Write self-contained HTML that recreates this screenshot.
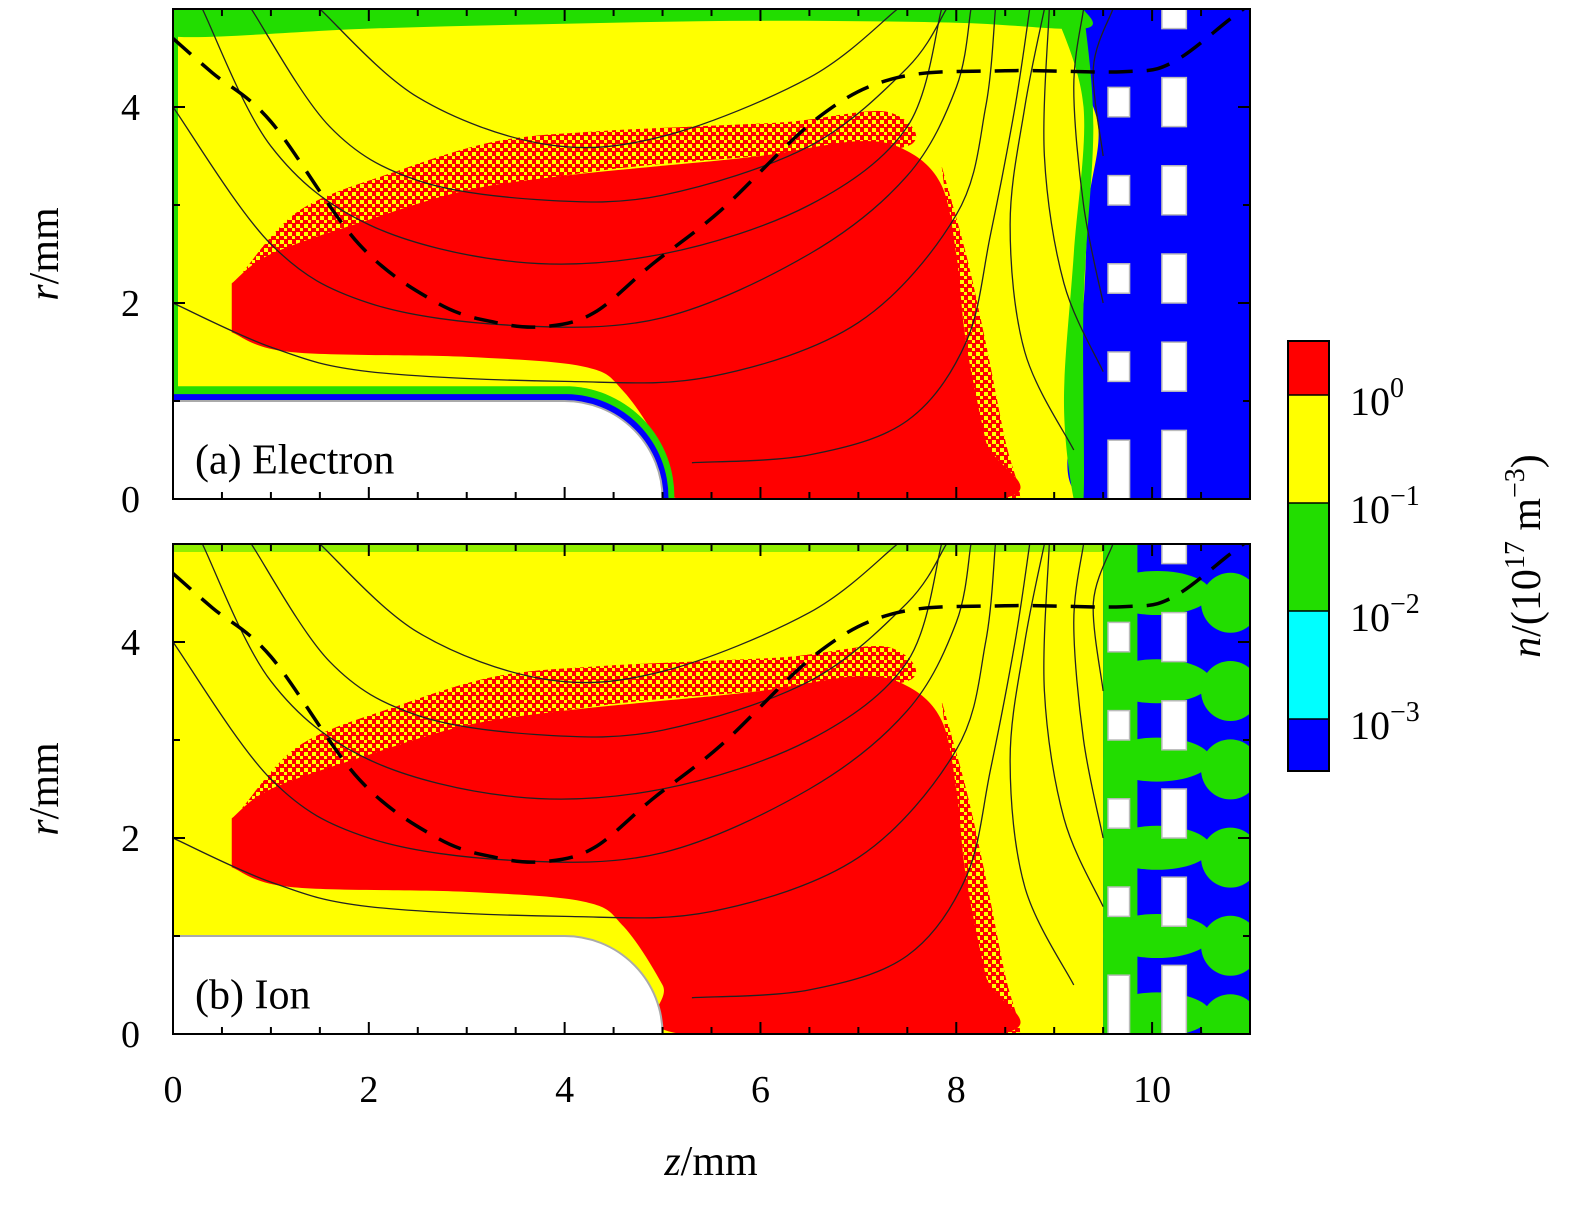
<!DOCTYPE html>
<html><head><meta charset="utf-8"><style>
body{margin:0;background:#fff}
svg text{font-family:"Liberation Serif",serif;fill:#000}
</style></head><body>
<svg id="fig" width="1575" height="1201" viewBox="0 0 1575 1201" xmlns="http://www.w3.org/2000/svg">
<defs>
<pattern id="speck" width="8" height="8" patternUnits="userSpaceOnUse">
<rect width="8" height="8" fill="#ff0000"/><rect x="0" y="0" width="4" height="4" fill="#ffff00"/><rect x="4" y="4" width="3" height="3" fill="#ffff00"/>
</pattern>
</defs>
</svg>
<script>
// ---- data (z in mm, r in mm) ----
const zTicks=[0,2,4,6,8,10];
const rTicks=[0,2,4];
const cbLabels=["0","\u22121","\u22122","\u22123"];
const redRegion=[[0.6,2.2],[1,2.5],[2,2.85],[3,3.15],[4,3.3],[5,3.4],[6,3.5],[7,3.65],[7.5,3.55],[7.85,3.2],[8.0,2.5],[8.1,1.6],[8.3,0.6],[8.45,0],[5.2,0],[5.0,0.5],[4.6,1.1],[4.2,1.35],[3,1.45],[1.2,1.5],[0.6,1.7]];
const speckRegion=[[0.7,2.3],[1.3,2.95],[2.3,3.35],[3.3,3.65],[4.3,3.75],[5.3,3.8],[6.3,3.85],[7.3,3.95],[7.5,3.6],[6,3.5],[4,3.3],[2,2.85]];
const speckRight=[[7.85,3.4],[8.1,2.5],[8.3,1.6],[8.5,0.6],[8.65,0],[8.4,0],[8.2,0.8],[8.05,2.0],[7.9,3.0]];
const streamA=[
 [[1.5,5],[2.5,4.1],[3.8,3.62],[5,3.7],[6.5,4.3],[7.4,5]],
 [[0.8,5],[1.6,3.8],[2.5,3.25],[3.8,3.05],[5,3.1],[6.5,3.6],[7.5,4.4],[7.9,5]],
 [[0.3,5],[1,3.6],[2,2.8],[3.5,2.42],[5,2.5],[6.5,3.0],[7.5,3.8],[7.85,5]],
 [[0,4.0],[1,2.6],[2,2.0],[3.5,1.77],[5,1.85],[6.5,2.5],[7.5,3.3],[8.0,4.2],[8.15,5]],
 [[0,2.0],[1,1.55],[2,1.3],[4,1.2],[5.5,1.25],[7,1.8],[8,2.9],[8.3,4],[8.4,5]],
 [[5.3,0.37],[6.5,0.45],[7.5,0.8],[8.1,1.6],[8.35,2.7],[8.6,4],[8.75,5]],
 [[9.2,0.5],[8.7,1.5],[8.55,2.8],[8.7,4],[8.9,5]],
 [[9.5,1.3],[9.1,2.2],[8.9,3.5],[8.95,5]],
 [[9.5,2.0],[9.3,3.0],[9.2,4.2],[9.3,5]],
 [[9.5,3.5],[9.4,4.4],[9.6,5]]
];
const dashLine=[[0,4.7],[0.4,4.35],[1.0,3.85],[1.9,2.6],[2.7,2.0],[3.3,1.8],[3.8,1.76],[4.3,1.9],[4.9,2.4],[5.6,2.95],[6.6,3.9],[7.4,4.3],[8.5,4.37],[9.7,4.36],[10.2,4.45],[10.8,4.9],[11,5.05]];
const holesA=[[9.55,3.9,0.22,0.3],[9.55,3.0,0.22,0.3],[9.55,2.1,0.22,0.3],[9.55,1.2,0.22,0.3],[9.55,0,0.22,0.6],
 [10.1,4.8,0.25,0.2],[10.1,3.8,0.25,0.5],[10.1,2.9,0.25,0.5],[10.1,2.0,0.25,0.5],[10.1,1.1,0.25,0.5],[10.1,0,0.25,0.7]];
const greenLobes=[4.5,3.6,2.8,1.9,1.0,0.2];
// ---- axes ----
const X0=173,X1=1250,PX=(X1-X0)/11;
const panels=[{yb:499,tag:"(a) Electron",name:"electron"},{yb:1034,tag:"(b) Ion",name:"ion"}];
const NS="http://www.w3.org/2000/svg";
const svg=document.getElementById('fig');
function el(t,a,p){const e=document.createElementNS(NS,t);for(const k in a)e.setAttribute(k,a[k]);(p||svg).appendChild(e);return e;}
function path(pts,sx,sy,close){
 let d="";const P=pts.map(p=>[sx(p[0]),sy(p[1])]);
 d="M"+P[0][0]+","+P[0][1];
 for(let i=0;i<P.length-1;i++){const p0=P[i-1]||P[i],p1=P[i],p2=P[i+1],p3=P[i+2]||p2;
  d+=" C"+(p1[0]+(p2[0]-p0[0])/6)+","+(p1[1]+(p2[1]-p0[1])/6)+" "+(p2[0]-(p3[0]-p1[0])/6)+","+(p2[1]-(p3[1]-p1[1])/6)+" "+p2[0]+","+p2[1];}
 return d+(close?" Z":"");
}
panels.forEach((pn,pi)=>{
 const sx=z=>X0+z*PX, sy=r=>pn.yb-r*98;
 const g=el('g',{});
 
 
 el('clipPath',{id:'c'+pi},g); el('rect',{x:X0,y:sy(5),width:X1-X0,height:98*5},g.lastChild);
 const cg=el('g',{'clip-path':'url(#c'+pi+')'},g);
 el('rect',{x:X0,y:sy(5),width:X1-X0,height:490,fill:'#ffff00'},cg);
 if(pi===0){
  el('path',{d:path([[9.3,5],[9.2,4.5],[9.45,3.8],[9.35,3],[9.3,2],[9.2,1],[9.3,0],[11,0],[11,5]],sx,sy,true),fill:'#0000ff'},cg);
  el('path',{d:path([[0,5],[0,4.72],[2,4.8],[4,4.85],[6,4.88],[8,4.86],[9.3,4.8],[9.3,5]],sx,sy,true),fill:'#22dd00'},cg);
  el('rect',{x:sx(0),y:sy(5),width:5,height:490,fill:'#22dd00'},cg);
  el('path',{d:path([[9.0,5],[9.3,4],[9.2,2.5],[9.1,1],[9.2,0],[9.3,0],[9.3,2],[9.4,3.8],[9.3,5]],sx,sy,true),fill:'#22dd00'},cg);
 } else {
  el('rect',{x:sx(9.5),y:sy(5),width:sx(11)-sx(9.5),height:490,fill:'#0000ff'},cg);
  greenLobes.forEach(r=>{el('ellipse',{cx:sx(10.05),cy:sy(r),rx:PX*0.55,ry:22,fill:'#22dd00'},cg);el('ellipse',{cx:sx(10.8),cy:sy(r-0.1),rx:PX*0.3,ry:30,fill:'#22dd00'},cg);});
  el('rect',{x:sx(9.5),y:sy(5),width:PX*0.35,height:490,fill:'#22dd00'},cg);
  el('rect',{x:sx(0),y:sy(5),width:sx(9.5)-sx(0),height:8,fill:'#22dd00',opacity:0.5},cg);
 }
 el('path',{d:path(speckRegion,sx,sy,true),fill:'url(#speck)'},cg);
 el('path',{d:path(speckRight,sx,sy,true),fill:'url(#speck)'},cg);
 el('path',{d:path(redRegion,sx,sy,true),fill:'#ff0000'},cg);
 const ed=`M${sx(0)},${sy(1)} L${sx(4)},${sy(1)} A${PX},${98} 0 0 1 ${sx(5)},${sy(0)} L${sx(0)},${sy(0)} Z`;
 if(pi===0) el('path',{d:`M${sx(0)},${sy(1.15)} L${sx(4.05)},${sy(1.15)} A${PX*1.12},${98*1.12} 0 0 1 ${sx(5.12)},${sy(0)} L${sx(0)},${sy(0)} Z`,fill:'#22dd00'},cg);
 if(pi===0) el('path',{d:`M${sx(0)},${sy(1.07)} L${sx(4.02)},${sy(1.07)} A${PX*1.05},${98*1.05} 0 0 1 ${sx(5.06)},${sy(0)} L${sx(0)},${sy(0)} Z`,fill:'#0000ff'},cg);
 const e=el('path',{d:ed,fill:'#fff',stroke:'#aaa','stroke-width':2},cg);
  
 holesA.forEach(h=>{el('rect',{x:sx(h[0]),y:sy(h[1]+h[3]),width:h[2]*PX,height:h[3]*98,fill:'#fff',stroke:'#bbb','stroke-width':1.5},cg);});
 streamA.forEach(s=>{const l=el('path',{d:path(s,sx,sy),fill:'none',stroke:'#222','stroke-width':1.3},cg);
   });
 const dl=el('path',{d:path(dashLine,sx,sy),fill:'none',stroke:'#000','stroke-width':3.5,'stroke-dasharray':'24,14'},cg);
  
 el('rect',{x:X0,y:sy(5),width:X1-X0,height:490,fill:'none',stroke:'#000','stroke-width':2},g);
 for(let z=0;z<=11;z+=0.5){const L=(z%2===0)?12:7;el('line',{x1:sx(z),x2:sx(z),y1:sy(0),y2:sy(0)-L,stroke:'#000','stroke-width':2},g);el('line',{x1:sx(z),x2:sx(z),y1:sy(5),y2:sy(5)+L,stroke:'#000','stroke-width':2},g);}
 for(let r=0;r<=5;r+=1){const L=(r%2===0)?12:7;el('line',{x1:X0,x2:X0+L,y1:sy(r),y2:sy(r),stroke:'#000','stroke-width':2},g);el('line',{x1:X1,x2:X1-L,y1:sy(r),y2:sy(r),stroke:'#000','stroke-width':2},g);}
 rTicks.forEach(r=>{const t=el('text',{x:140,y:sy(r)+13,'font-size':38,'text-anchor':'end'},g);t.textContent=r;
   });
 const yl=el('text',{x:58,y:(sy(2.5)),'font-size':42,'text-anchor':'middle',transform:`rotate(-90 58 ${sy(2.5)})`},g);
 yl.innerHTML='<tspan font-style="italic">r</tspan>/mm';
  
 const tg=el('text',{x:195,y:sy(0.3)+4,'font-size':42},g);tg.textContent=pn.tag;
  
 if(pi===1){zTicks.forEach(z=>{const t=el('text',{x:sx(z),y:1102,'font-size':38,'text-anchor':'middle'},g);t.textContent=z;
   });}
});
const xl=el('text',{x:711,y:1175,'font-size':42,'text-anchor':'middle'});
xl.innerHTML='<tspan font-style="italic">z</tspan>/mm';
 
const cb=el('g',{});
 
[[341,395,'#ff0000'],[395,503,'#ffff00'],[503,611,'#22dd00'],[611,719,'#00ffff'],[719,771,'#0000ff']].forEach(b=>el('rect',{x:1288,y:b[0],width:41,height:b[1]-b[0],fill:b[2]},cb));
el('rect',{x:1288,y:341,width:41,height:430,fill:'none',stroke:'#000','stroke-width':2},cb);
cbLabels.forEach((s,i)=>{const y=395+i*108;el('line',{x1:1288,x2:1329,y1:y,y2:y,stroke:'#000','stroke-width':1.5},cb);
 const t=el('text',{x:1350,y:y+20,'font-size':40},cb);t.innerHTML='10<tspan dy="-18" font-size="28">'+s+'</tspan>';
  });
const ct=el('text',{x:1540,y:556,'font-size':42,'text-anchor':'middle',transform:'rotate(-90 1540 556)'});
ct.innerHTML='<tspan font-style="italic">n</tspan>/(10<tspan dy="-16" font-size="28">17</tspan><tspan dy="16"> m</tspan><tspan dy="-16" font-size="28">\u22123</tspan><tspan dy="16">)</tspan>';
 
</script>
</body></html>
